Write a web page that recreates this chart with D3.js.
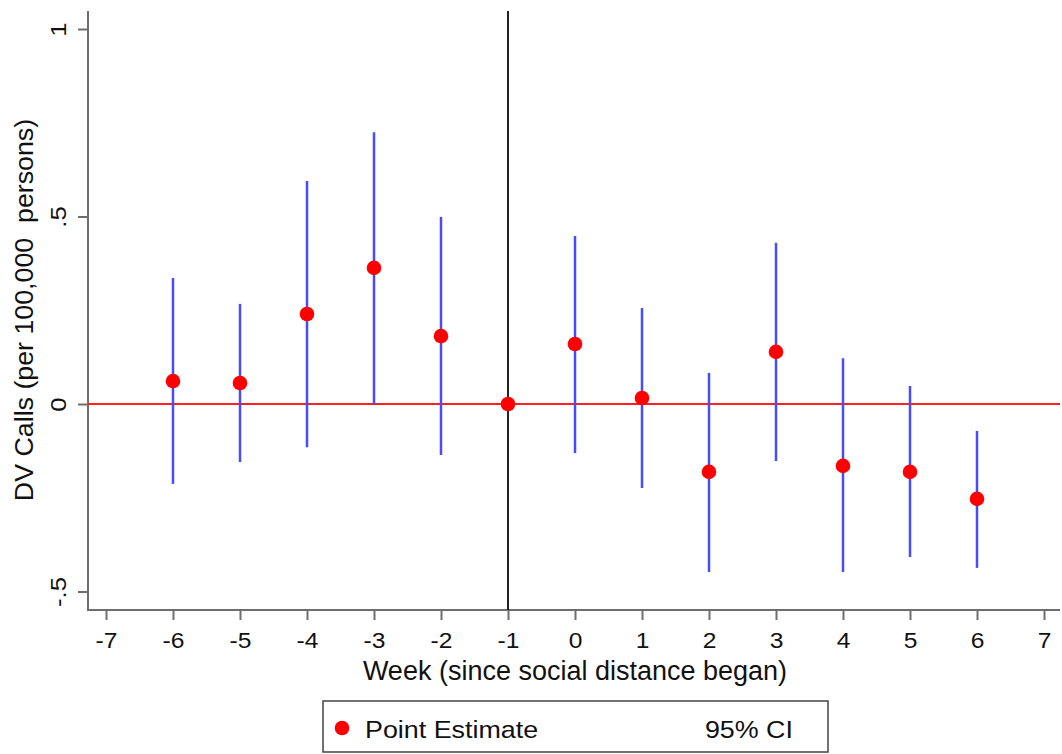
<!DOCTYPE html>
<html>
<head>
<meta charset="utf-8">
<script src="https://cdn.jsdelivr.net/npm/d3@7"></script>
<style>
  body { margin: 0; background: #fff; }
  text { font-family: "Liberation Sans", Arial, sans-serif; fill: #111; }
</style>
</head>
<body>
<svg id="chart"></svg>
<script>
// данные
let weeks = [-6, -5, -4, -3, -2, -1, 0, 1, 2, 3, 4, 5, 6];
let estimates = [0.061, 0.056, 0.240, 0.363, 0.181, 0, 0.160, 0.016, -0.181, 0.139, -0.165, -0.181, -0.253];
let ciLow = [-0.213, -0.155, -0.115, 0.0, -0.136, null, -0.131, -0.224, -0.448, -0.152, -0.448, -0.408, -0.437];
let ciHigh = [0.336, 0.267, 0.595, 0.725, 0.499, null, 0.448, 0.256, 0.083, 0.430, 0.122, 0.048, -0.072];
let xTicks = [-7, -6, -5, -4, -3, -2, -1, 0, 1, 2, 3, 4, 5, 6, 7];
let yTicks = [-0.5, 0, 0.5, 1];
let yTickLabels = ["-.5", "0", ".5", "1"];

let width = 1062, height = 754;
let svg = d3.select("#chart").attr("width", width).attr("height", height);

let x = d3.scaleLinear().domain([-7, 7]).range([106, 1044]);
let y = d3.scaleLinear().domain([-0.5, 1]).range([591.5, 29]);

let plotLeft = 88, plotRight = 1060, plotTop = 11, plotBottom = 610;
let axisColor = "#6e6e6e";
let stretch = 1.12; // цифры и легенда в оригинале чуть шире

// ось Y
let yAxis = svg.append("g")
  .attr("transform", `translate(${plotLeft},0)`)
  .call(d3.axisLeft(y).tickValues(yTicks).tickSize(10)
    .tickFormat((d, i) => yTickLabels[i]));
yAxis.select(".domain").remove();
yAxis.selectAll(".tick line").attr("stroke", axisColor).attr("stroke-width", 2);
yAxis.selectAll(".tick text")
  .attr("font-size", 23)
  .attr("transform", `rotate(-90) scale(${stretch},1)`)
  .attr("x", 0)
  .attr("y", -22)
  .attr("dy", "0")
  .attr("text-anchor", "middle");
svg.append("line")
  .attr("x1", plotLeft).attr("x2", plotLeft)
  .attr("y1", plotTop).attr("y2", plotBottom + 1)
  .attr("stroke", axisColor).attr("stroke-width", 2);

// ось X
let xAxis = svg.append("g")
  .attr("transform", `translate(0,${plotBottom})`)
  .call(d3.axisBottom(x).tickValues(xTicks).tickSize(10)
    .tickFormat(d3.format("d")));
xAxis.select(".domain").remove();
xAxis.selectAll(".tick line").attr("stroke", axisColor).attr("stroke-width", 2);
xAxis.selectAll(".tick text")
  .attr("font-size", 22)
  .attr("y", 38).attr("dy", "0")
  .attr("transform", `scale(${stretch},1)`)
  .text(d => String(d));
svg.append("line")
  .attr("x1", plotLeft - 1).attr("x2", plotRight)
  .attr("y1", plotBottom).attr("y2", plotBottom)
  .attr("stroke", axisColor).attr("stroke-width", 2);

// подписи осей
svg.append("text")
  .attr("transform", "translate(33,310) rotate(-90) scale(1.03,1)")
  .attr("text-anchor", "middle")
  .attr("font-size", 26)
  .style("white-space", "pre")
  .text("DV Calls (per 100,000  persons)");
svg.append("text")
  .attr("x", 575).attr("y", 680)
  .attr("text-anchor", "middle")
  .attr("font-size", 27)
  .text("Week (since social distance began)");

// нулевая линия и вертикальная линия
svg.append("line")
  .attr("x1", plotLeft).attr("x2", plotRight)
  .attr("y1", y(0)).attr("y2", y(0))
  .attr("stroke", "#ff2020").attr("stroke-width", 2);
svg.append("line")
  .attr("x1", x(-1)).attr("x2", x(-1))
  .attr("y1", plotTop).attr("y2", plotBottom)
  .attr("stroke", "#222").attr("stroke-width", 2);

// доверительные интервалы
let rows = weeks.map((w, i) => ({ w: w, est: estimates[i], lo: ciLow[i], hi: ciHigh[i] }));
svg.append("g").selectAll("line")
  .data(rows.filter(d => d.lo !== null))
  .join("line")
  .attr("x1", d => x(d.w)).attr("x2", d => x(d.w))
  .attr("y1", d => y(d.lo)).attr("y2", d => y(d.hi))
  .attr("stroke", "#4a4aff").attr("stroke-width", 2.5);

// точки
svg.append("g").selectAll("circle")
  .data(rows)
  .join("circle")
  .attr("cx", d => x(d.w)).attr("cy", d => y(d.est))
  .attr("r", 7.3)
  .attr("fill", "#ff0000");

// легенда
let legend = svg.append("g");
legend.append("rect")
  .attr("x", 323).attr("y", 701).attr("width", 505).attr("height", 51)
  .attr("fill", "#fff").attr("stroke", "#444").attr("stroke-width", 1.5);
legend.append("circle").attr("cx", 342).attr("cy", 728).attr("r", 7.3).attr("fill", "#ff0000");
legend.append("text")
  .attr("transform", `translate(365,738) scale(${stretch},1)`)
  .attr("font-size", 24).text("Point Estimate");
legend.append("text")
  .attr("transform", `translate(793,738) scale(${stretch},1)`)
  .attr("font-size", 24)
  .attr("text-anchor", "end").text("95% CI");
</script>
</body>
</html>
